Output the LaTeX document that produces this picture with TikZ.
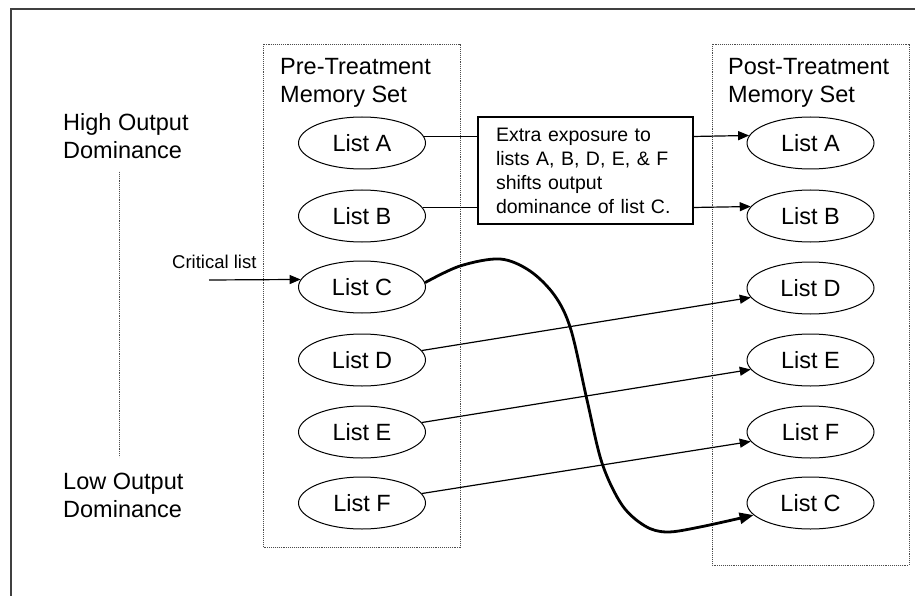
\documentclass[tikz,border=0pt]{standalone}
\usepackage{fontspec}
\setmainfont{Liberation Sans}
\usetikzlibrary{shapes.geometric,arrows.meta}
\begin{document}
\begin{tikzpicture}[x=1pt,y=-1pt,
  lst/.style={ellipse,draw,line width=1pt,minimum width=127pt,minimum height=52pt,inner sep=0pt,font=\fontsize{23.5}{28}\selectfont},
  big/.style={anchor=west,align=left,inner sep=0pt,font=\fontsize{23.5}{28}\selectfont},
  setbox/.style={draw=black!70,densely dotted,line width=0.9pt},
  arr/.style={line width=1.2pt,-{Triangle[length=11pt,width=9pt]}},
  ln/.style={line width=1.2pt},
  thick curve/.style={line width=2.8pt,-{Triangle[length=14pt,width=11pt]}}]
\useasboundingbox (0,0) rectangle (915,596);
% outer frame
\draw[black!75,line width=1.6pt] (11,596) -- (11,9) -- (915,9);
% set boxes
\draw[setbox] (263,44) rectangle (460,547);
\draw[setbox] (712,44) rectangle (909,565);
% side labels
\node[big] (hi) at (63,136) {High Output\\Dominance};
\node[big] (lo) at (63,495) {Low Output\\Dominance};
\draw[densely dotted,black!70,line width=0.9pt] (119,172) -- (119,457);
% titles
\node[big] (pretitle) at (280,83) {Pre-Treatment\\Memory Set};
\node[big] (posttitle) at (728,83) {Post-Treatment\\Memory Set};
% pre lists
\node[lst] (LA) at (362,143) {List A};
\node[lst] (LB) at (362,216) {List B};
\node[lst] (LC) at (362,287) {List C};
\node[lst] (LD) at (362,360) {List D};
\node[lst] (LE) at (362,432) {List E};
\node[lst] (LF) at (362,503) {List F};
% post lists
\node[lst] (RA) at (810.5,143) {List A};
\node[lst] (RB) at (810.5,216) {List B};
\node[lst] (RD) at (810.5,288) {List D};
\node[lst] (RE) at (810.5,360) {List E};
\node[lst] (RF) at (810.5,432) {List F};
\node[lst] (RC) at (810.5,503) {List C};
% explanation box
\node[draw,line width=1.2pt,minimum width=215pt,minimum height=107pt,text width=179pt,
      inner xsep=18pt,inner ysep=0pt,align=left,font=\fontsize{19.5}{24}\selectfont]
      (box) at (585.5,170.5) {Extra exposure to\\lists A, B, D, E, \& F\\shifts output\\dominance of list C.};
% connectors
\draw[ln] (LA.6.5) -- (LA.6.5 -| box.west);
\draw[arr] (box.east |- LA.6.5) -- (RA.173.5);
\draw[ln] (LB.8.6) -- (LB.8.6 -| box.west);
\draw[arr] (box.east |- LB.8.6) -- (RB.171.4);
\draw[arr] (LD.9.7) -- (RD.189.7);
\draw[arr] (LE.9.7) -- (RE.189.7);
\draw[arr] (LF.9.7) -- (RF.189.7);
% critical list
\node[anchor=west,inner sep=0pt,font=\fontsize{18.5}{22}\selectfont] (critlbl) at (172,262) {Critical list};
\coordinate (crit) at (209,280);
\draw[arr] (crit) -- (LC.173.5);
% thick curve
\draw[thick curve] plot[smooth,tension=0.55] coordinates {(LC.4.6) (460,266) (500,259) (530,271) (555,296) (571,330) (587,400) (602,463) (622,505) (645,526) (667,532) (700,527) (RC.192)};
\end{tikzpicture}
\end{document}
